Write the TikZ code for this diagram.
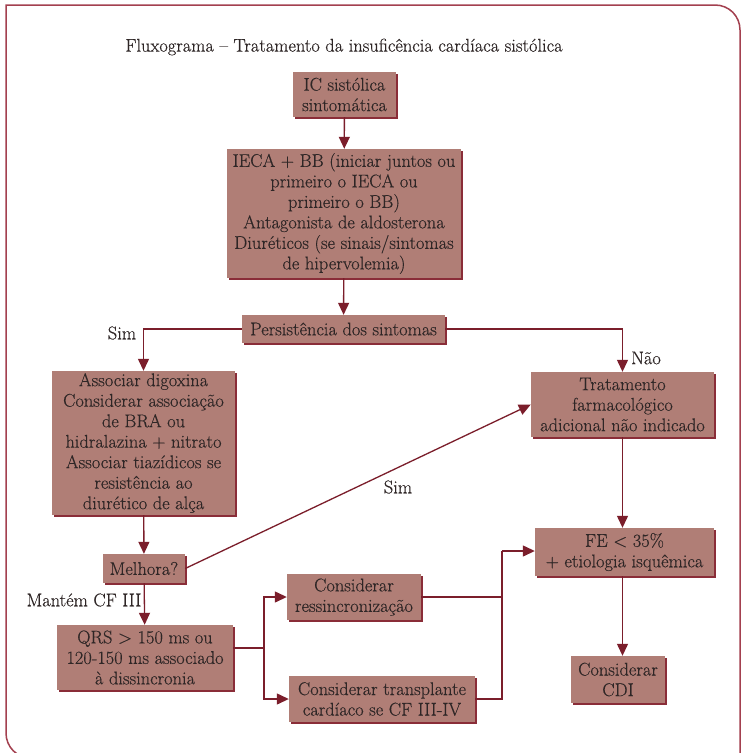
\documentclass[tikz,border=0pt]{standalone}
\usepackage{fontspec}
\setmainfont{Latin Modern Roman}[FakeBold=0.35]
\usetikzlibrary{arrows.meta}
\definecolor{boxfill}{HTML}{B07E76}
\definecolor{boxedge}{HTML}{8A2D38}
\definecolor{linkc}{HTML}{7B1E2B}
\definecolor{framec}{HTML}{A3404F}
\definecolor{inkc}{HTML}{2E2626}
\begin{document}
\begin{tikzpicture}[x=1pt,y=-1pt,
  every node/.style={text=inkc,font=\fontsize{18.4}{20.5}\selectfont},
  stepbox/.style={rectangle,fill=boxfill,inner sep=0pt,align=center,
    preaction={fill=boxedge,transform canvas={xshift=1.7pt,yshift=-1.7pt}}},
  arr/.style={draw=linkc,line width=1.3pt,-{Triangle[length=12pt,width=11pt]}},
  ln/.style={draw=linkc,line width=1.3pt},
  lbl/.style={inner sep=0pt}]
\clip (0,0) rectangle (741,753);
\useasboundingbox (0,0) rectangle (741,753);
\fill[white] (0,0) rectangle (741,753);

% outer frame: square top-left corner, rounded top-right and bottom-left corners
\draw[framec,line width=1.5pt,line join=miter] (31,758)
  .. controls (17,758) and (6,747) .. (6,733)
  -- (6,5) -- (715,5)
  .. controls (729,5) and (740,16) .. (740,30) -- (740,790);
\draw[framec,line width=1.5pt] (31,758) -- (760,758);

% title
\node[lbl] (title) at (344,47) {Fluxograma -- Tratamento da insuficência cardíaca sistólica};

% boxes
\node[stepbox,minimum width=103pt,minimum height=45pt] (ic) at (344.5,94.5) {IC sistólica\\sintomática};
\node[stepbox,minimum width=234pt,minimum height=129pt] (ieca) at (344,213.5)
  {IECA + BB (iniciar juntos ou\\primeiro o IECA ou\\primeiro o BB)\\Antagonista de aldosterona\\Diuréticos (se sinais/sintomas\\de hipervolemia)};
\node[stepbox,minimum width=203pt,minimum height=28pt] (pers) at (343.5,329) {Persistência dos sintomas};
\node[stepbox,minimum width=183pt,minimum height=144pt] (assoc) at (143.5,443)
  {Associar digoxina\\Considerar associação\\de BRA ou\\hidralazina + nitrato\\Associar tiazídicos se\\resistência ao\\diurético de alça};
\node[stepbox,minimum width=183pt,minimum height=65pt] (trat) at (622.5,404.5)
  {Tratamento\\farmacológico\\adicional não indicado};
\node[stepbox,minimum width=82pt,minimum height=29pt] (melh) at (144,568.5) {Melhora?};
\node[stepbox,minimum width=179pt,minimum height=48pt] (fe) at (624.5,552) {FE < 35\%\\+ etiologia isquêmica};
\node[stepbox,minimum width=94pt,minimum height=47pt] (cdi) at (618,679.5) {Considerar\\CDI};
\node[stepbox,minimum width=176pt,minimum height=65pt] (qrs) at (145,657.5)
  {QRS > 150 ms ou\\120-150 ms associado\\à dissincronia};
\node[stepbox,minimum width=134pt,minimum height=46pt] (ress) at (354,597) {Considerar\\ressincronização};
\node[stepbox,minimum width=186pt,minimum height=46pt] (transp) at (382,699) {Considerar transplante\\cardíaco se CF III-IV};

% branch points
\coordinate (split) at (264,648);
\coordinate (join) at (502,551);

% connectors
\draw[arr] (ic) -- (ieca);
\draw[arr] (ieca) -- (pers);
\draw[arr] (pers.west) -| (assoc.north);
\draw[arr] (pers.east) -| (trat.north);
\draw[arr] (assoc) -- (melh);
\draw[arr] (melh.east) -- (trat.west);
\draw[arr] (melh) -- (qrs);
\draw[arr] (trat.south) -- (trat.south |- fe.north);
\draw[arr] (trat.south |- fe.south) -- (trat.south |- cdi.north);
\draw[ln] (qrs.east |- split) -- (split);
\draw[arr] (split) |- (ress.west);
\draw[arr] (split) |- (transp.west);
\draw[ln] (ress.east) -| (join);
\draw[ln] (transp.east) -| (join);
\draw[arr] (join) -- (join -| fe.west);

% branch labels
\node[lbl] (simA) at (122,333) {Sim};
\node[lbl] (nao) at (646,358) {Não};
\node[lbl] (simB) at (398,487) {Sim};
\node[lbl] (mantem) at (84,600) {Mantém CF III};
\end{tikzpicture}
\end{document}
